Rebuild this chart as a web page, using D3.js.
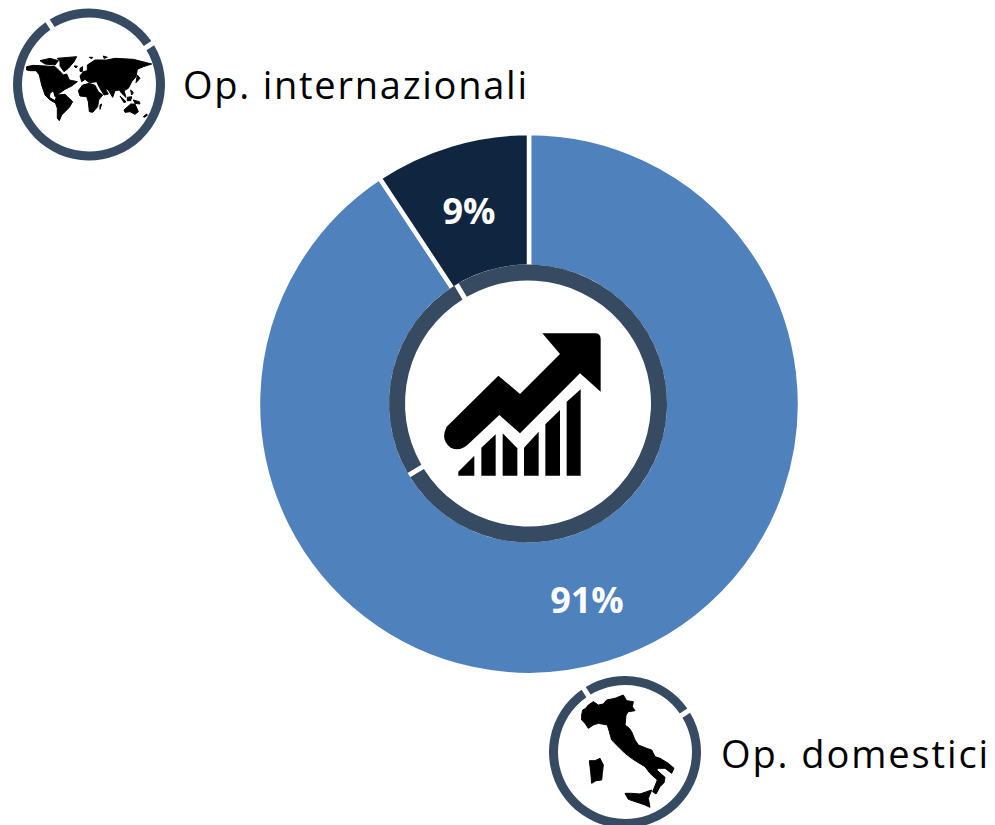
<!DOCTYPE html>
<html>
<head>
<meta charset="utf-8">
<script src="https://cdn.jsdelivr.net/npm/d3@7"></script>
<style>
  html, body { margin: 0; background: #fff; }
  text { font-family: "Open Sans", sans-serif; }
</style>
</head>
<body>
<svg id="chart" width="995" height="825"></svg>
<script>
const shares = [90.7, 9.3]
const shareLabels = ['91%', '9%']
const shareColors = ['#4f81bd', '#10253f']
const ringShares = [25, 75]
const iconLabels = ['Op. internazionali', 'Op. domestici']

// icon outlines
const arrowIcon = [
  'M487,235 L645,235 Q662,235 662,252 L662,410 L600,355 L420,535 L358,480 L262,570 Q240,590 212,578 Q180,555 200,515 L355,362 L420,417 L540,297 Z',
  'M283,602 L283,662 L235,662 L235,650 Z',
  'M304,578 L347,538 L347,662 L304,662 Z',
  'M368,535 L412,580 L412,662 L368,662 Z',
  'M432,578 L476,530 L476,662 L432,662 Z',
  'M496,508 L540,465 L540,662 L496,662 Z',
  'M560,440 L602,403 L602,662 L560,662 Z'
]
const worldIcon = [
  'M80,200 L100,196 L135,198 L165,200 L178,212 L190,225 L200,222 L208,240 L232,245 L215,258 L195,268 L178,280 L165,290 L160,272 L150,280 L148,292 L165,302 L180,312 L172,312 L150,300 L135,285 L125,255 L118,225 L108,212 L90,212 L80,210 Z',
  'M120,182 L150,175 L175,182 L165,195 L135,192 Z',
  'M172,175 L230,170 L222,185 L205,205 L192,215 L180,198 L180,185 Z',
  'M170,285 L195,283 L218,305 L208,322 L195,335 L185,345 L178,362 L172,355 L172,325 L165,305 Z',
  'M235,272 L248,255 L268,250 L285,256 L295,275 L308,285 L296,300 L293,320 L278,337 L268,335 L265,305 L260,290 L240,288 Z',
  'M300,315 L305,312 L300,328 Z',
  'M240,228 L250,215 L262,212 L262,195 L285,180 L320,180 L345,175 L400,178 L455,192 L430,200 L412,208 L408,230 L395,245 L385,265 L372,272 L378,292 L365,280 L358,270 L345,272 L338,292 L325,270 L315,265 L325,282 L312,285 L298,262 L290,245 L268,248 L255,238 L245,245 Z',
  'M240,205 L248,200 L247,215 L240,214 Z',
  'M412,225 L420,235 L408,248 Z',
  'M372,330 L392,312 L405,312 L415,335 L405,343 L390,335 L375,337 Z',
  'M360,288 L378,305 L372,308 Z',
  'M382,292 L395,290 L392,302 L382,302 Z',
  'M400,300 L418,305 L420,312 L405,310 Z',
  'M392,270 L400,278 L395,285 Z',
  'M430,350 L440,342 L442,346 L433,352 Z',
  'M222,198 L232,198 L228,204 Z',
  'M268,172 L278,172 L275,176 Z',
  'M310,168 L322,172 L312,175 Z'
]
const italyIcon = [
  'M35,75 L38,60 L47,55 L55,45 L70,35 L85,45 L100,42 L110,30 L135,25 L160,15 L170,32 L190,35 L187,50 L195,62 L175,65 L168,75 L165,105 L178,115 L185,125 L195,150 L205,165 L230,175 L245,180 L255,200 L270,205 L295,220 L312,235 L305,250 L285,235 L265,235 L260,240 L285,262 L282,278 L270,290 L258,312 L248,305 L262,270 L240,250 L225,230 L200,215 L185,205 L165,190 L145,170 L125,150 L118,125 L112,105 L85,100 L70,105 L55,115 L45,100 L35,90 Z',
  'M58,212 L75,212 L90,205 L100,225 L97,250 L95,270 L78,272 L65,280 L62,245 Z',
  'M165,310 L185,310 L210,312 L245,300 L235,325 L240,352 L225,345 L205,338 L175,328 Z'
]

const svg = d3.select('#chart')
const deg = Math.PI / 180

function drawDonut () {
  const g = svg.append('g').attr('transform', 'translate(529,404)')
  const pie = d3.pie().sort(null)
  const arc = d3.arc().innerRadius(120).outerRadius(271)

  g.selectAll('path').data(pie(shares)).enter().append('path')
    .attr('d', arc)
    .attr('fill', (d, i) => shareColors[i])
    .attr('stroke', '#fff')
    .attr('stroke-width', 4.5)
}

function drawRing (cx, cy, outer, inner, start, gap) {
  const g = svg.append('g').attr('transform', `translate(${cx},${cy})`)
  const pie = d3.pie().sort(null).startAngle(start * deg).endAngle((start + 360) * deg)
  const arc = d3.arc().innerRadius(inner).outerRadius(outer)
    .padAngle(gap / outer).padRadius(outer)

  g.append('circle').attr('r', outer).attr('fill', '#fff')
  g.selectAll('path').data(pie(ringShares)).enter().append('path')
    .attr('d', arc)
    .attr('fill', '#364b62')
}

function drawIcon (paths, x, y, k, bulk) {
  svg.append('g')
    .attr('transform', `translate(${x},${y}) scale(${k})`)
    .selectAll('path').data(paths).enter().append('path')
    .attr('d', d => d)
    .attr('fill', '#000')
    .attr('stroke', '#000')
    .attr('stroke-width', bulk)
    .attr('stroke-linejoin', 'round')
}

function drawLabels () {
  svg.append('text').attr('x', 587).attr('y', 613)
    .attr('text-anchor', 'middle').attr('font-size', 36).attr('font-weight', 700)
    .attr('fill', '#fff').text(shareLabels[0])
  svg.append('text').attr('x', 469).attr('y', 224)
    .attr('text-anchor', 'middle').attr('font-size', 36).attr('font-weight', 700)
    .attr('fill', '#fff').text(shareLabels[1])
  svg.append('text').attr('x', 183).attr('y', 99)
    .attr('font-size', 38).attr('letter-spacing', 1.75).attr('fill', '#000').text(iconLabels[0])
  svg.append('text').attr('x', 721).attr('y', 768)
    .attr('font-size', 38).attr('letter-spacing', 1.9).attr('fill', '#000').text(iconLabels[1])
}

drawDonut()
drawRing(528, 403.5, 139, 123, 239, 5)
drawIcon(arrowIcon, 380, 255, 1 / 3, 0)
drawRing(89, 84.5, 76, 67, -33, 5)
drawIcon(worldIcon, 0, 0, 1 / 3, 3)
drawRing(625, 752, 76, 67, -33, 5)
drawIcon(italyIcon, 570, 690, 1 / 3, 3)
drawLabels()
</script>
</body>
</html>
